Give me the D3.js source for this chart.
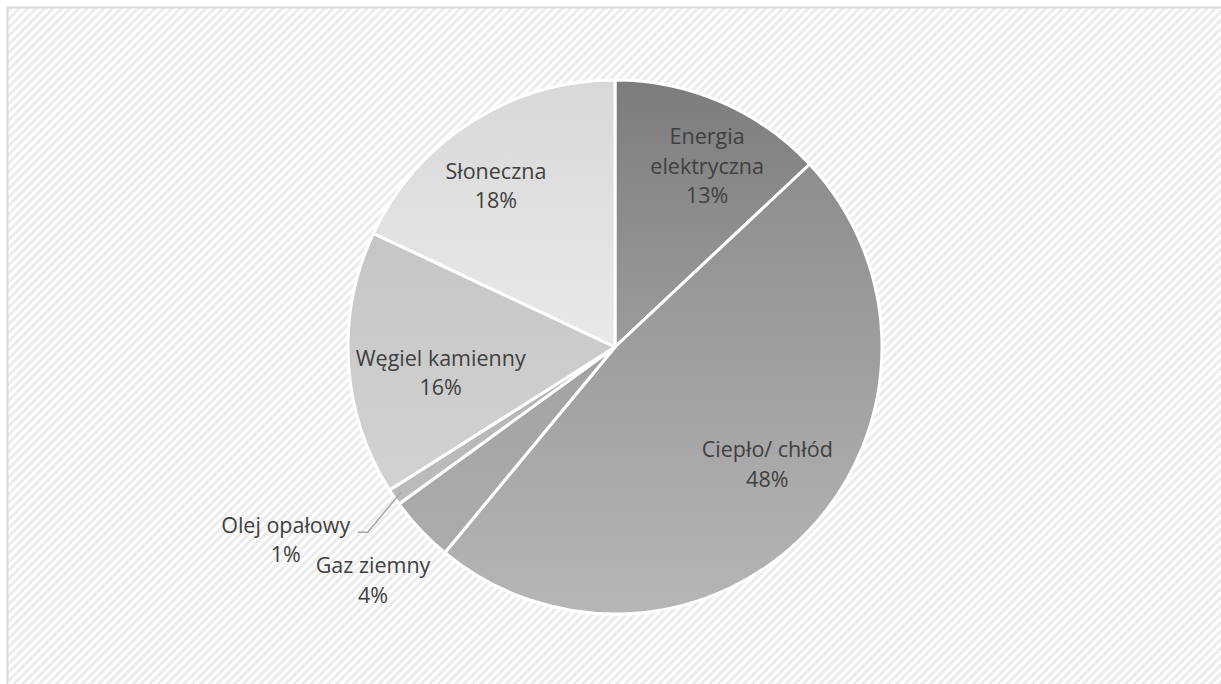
<!DOCTYPE html>
<html>
<head>
<meta charset="utf-8">
<script src="https://cdn.jsdelivr.net/npm/d3@7"></script>
<style>
  html, body { margin: 0; padding: 0; background: #ffffff; }
  svg { display: block; }
</style>
</head>
<body>
<svg id="chart" width="1221" height="684"></svg>
<script>
// Energy sources share (percent), clockwise from 12 o'clock
const categories = ["Energia elektryczna", "Ciepło/ chłód", "Gaz ziemny", "Olej opałowy", "Węgiel kamienny", "Słoneczna"];
const shares = [13, 48, 4, 1, 16, 18];
const labelLines = [["Energia", "elektryczna", "13%"], ["Ciepło/ chłód", "48%"], ["Gaz ziemny", "4%"], ["Olej opałowy", "1%"], ["Węgiel kamienny", "16%"], ["Słoneczna", "18%"]];
// gradient stops per slice (top colour, bottom colour)
const topColors = ["#7c7c7c", "#8d8d8d", "#a2a2a2", "#b4b4b4", "#c6c6c6", "#d8d8d8"];
const bottomColors = ["#9c9c9c", "#b6b6b6", "#acacac", "#bcbcbc", "#d2d2d2", "#e9e9e9"];
// label placement: radius as fraction of pie radius, angular nudge in degrees
const labelRadius = [0.76, 0.72, 1.26, 1.43, 0.66, 0.75];
const labelNudge = [3.6, -5.6, -0.8, 3.8, -4.9, -4.1];

const W = 1221, H = 684;
const cx = 615, cy = 347, R = 267;
const svg = d3.select("#chart");
const defs = svg.append("defs");

// light diagonal hatch for the chart background
const pat = defs.append("pattern")
  .attr("id", "hatch").attr("patternUnits", "userSpaceOnUse")
  .attr("width", 6).attr("height", 6)
  .attr("patternTransform", "rotate(45)");
pat.append("rect").attr("width", 6).attr("height", 6).attr("fill", "#ffffff");
pat.append("rect").attr("width", 3).attr("height", 6).attr("fill", "#ececec");

svg.append("rect").attr("x", 0).attr("y", 0).attr("width", W).attr("height", H).attr("fill", "#ffffff");
svg.append("rect").attr("x", 7.5).attr("y", 7.5).attr("width", W + 10).attr("height", H + 10)
  .attr("fill", "url(#hatch)").attr("stroke", "#d9d9d9").attr("stroke-width", 2);

categories.forEach((c, i) => {
  const g = defs.append("linearGradient").attr("id", "grad" + i)
    .attr("x1", 0).attr("y1", 0).attr("x2", 0).attr("y2", 1);
  g.append("stop").attr("offset", "0%").attr("stop-color", topColors[i]);
  g.append("stop").attr("offset", "100%").attr("stop-color", bottomColors[i]);
});

const pie = d3.pie().value(d => d).sort(null);
const arcs = pie(shares);
const arc = d3.arc().innerRadius(0).outerRadius(R);

const gPie = svg.append("g").attr("transform", `translate(${cx},${cy})`);
gPie.selectAll("path.slice").data(arcs).enter().append("path")
  .attr("class", "slice")
  .attr("d", arc)
  .attr("fill", (d, i) => `url(#grad${i})`)
  .attr("stroke", "#ffffff")
  .attr("stroke-width", 3)
  .attr("stroke-linejoin", "round");

// label anchors
const anchors = arcs.map((d, i) => {
  const a = (d.startAngle + d.endAngle) / 2 + labelNudge[i] * Math.PI / 180;
  const r = R * labelRadius[i];
  return [r * Math.sin(a), -r * Math.cos(a)];
});

// leader line for the thin "Olej opałowy" slice
{
  const d = arcs[3];
  const a = (d.startAngle + d.endAngle) / 2;
  const p0 = [(R - 8) * Math.sin(a), -(R - 8) * Math.cos(a)];
  const lab = anchors[3];
  const p2 = [lab[0] + 72, lab[1] - 8];
  const p1 = [p2[0] + 10, p2[1]];
  gPie.append("path")
    .attr("d", d3.line()([p0, p1, p2]))
    .attr("fill", "none").attr("stroke", "#a6a6a6").attr("stroke-width", 1.5);
}

const fontSize = 21.5, lineH = 29.5;
const labels = gPie.selectAll("text.lbl").data(arcs).enter().append("text")
  .attr("class", "lbl")
  .attr("text-anchor", "middle")
  .attr("font-family", "'Open Sans', sans-serif")
  .attr("font-size", fontSize)
  .attr("fill", "#404040");
labels.each(function(d, i) {
  const lines = labelLines[i];
  const [x, y] = anchors[i];
  const y0 = y - (lines.length - 1) * lineH / 2;
  d3.select(this).selectAll("tspan").data(lines).enter().append("tspan")
    .attr("x", x)
    .attr("y", (t, k) => y0 + k * lineH)
    .attr("dy", "0.35em")
    .text(t => t);
});
</script>
</body>
</html>
